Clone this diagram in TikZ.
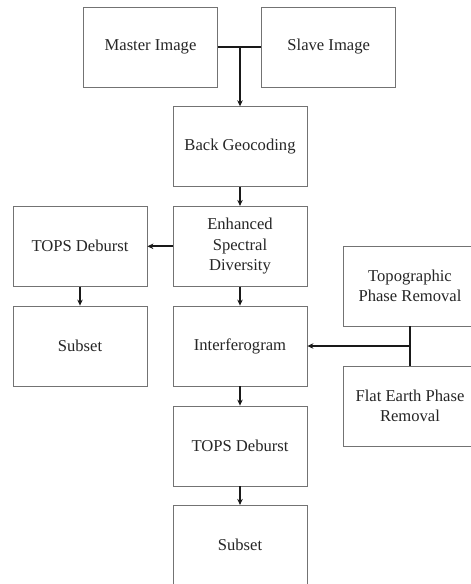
\documentclass[tikz,border=0pt]{standalone}
\usepackage{fontspec}
\setmainfont{Liberation Serif}
\usetikzlibrary{arrows.meta}
\begin{document}
\begin{tikzpicture}[x=1pt,y=1pt,
  procbox/.style={draw=black!55, line width=0.8pt, minimum width=134pt, minimum height=80pt,
    inner sep=0pt, align=center, font=\fontsize{16.6}{20.3}\selectfont, text=black!85},
  conn/.style={line width=2pt, black!90},
  arr/.style={conn, -{Stealth[length=6pt,width=5.5pt]}}]
\clip (0,0) rectangle (471,-584);
\fill[white] (0,0) rectangle (471,-584);
\node[procbox] (master) at (150.5,-47) {Master Image};
\node[procbox] (slave) at (328.7,-47) {Slave Image};
\node[procbox] (bg) at (240,-146.7) {Back Geocoding};
\node[procbox] (esd) at (240,-246.3) {Enhanced\\Spectral\\Diversity};
\node[procbox] (td1) at (80,-246.3) {TOPS Deburst};
\node[procbox] (sub1) at (80,-346) {Subset};
\node[procbox] (intf) at (240,-346) {Interferogram};
\node[procbox] (td2) at (240,-446) {TOPS Deburst};
\node[procbox] (sub2) at (240,-545.3) {Subset};
\node[procbox] (topo) at (410,-286) {Topographic\\Phase Removal};
\node[procbox] (flat) at (410,-406) {Flat Earth Phase\\Removal};
\coordinate (j1) at (bg.north |- master.east);
\coordinate (j2) at (topo.south |- intf.east);
\draw[conn] (master.east) -- (slave.west);
\draw[arr] (j1) -- (bg.north);
\draw[arr] (bg.south) -- (esd.north);
\draw[arr] (esd.west) -- (td1.east);
\draw[arr] (td1.south) -- (sub1.north);
\draw[arr] (esd.south) -- (intf.north);
\draw[arr] (intf.south) -- (td2.north);
\draw[arr] (td2.south) -- (sub2.north);
\draw[conn] (topo.south) -- (flat.north);
\draw[arr] (j2) -- (intf.east);
\end{tikzpicture}
\end{document}
